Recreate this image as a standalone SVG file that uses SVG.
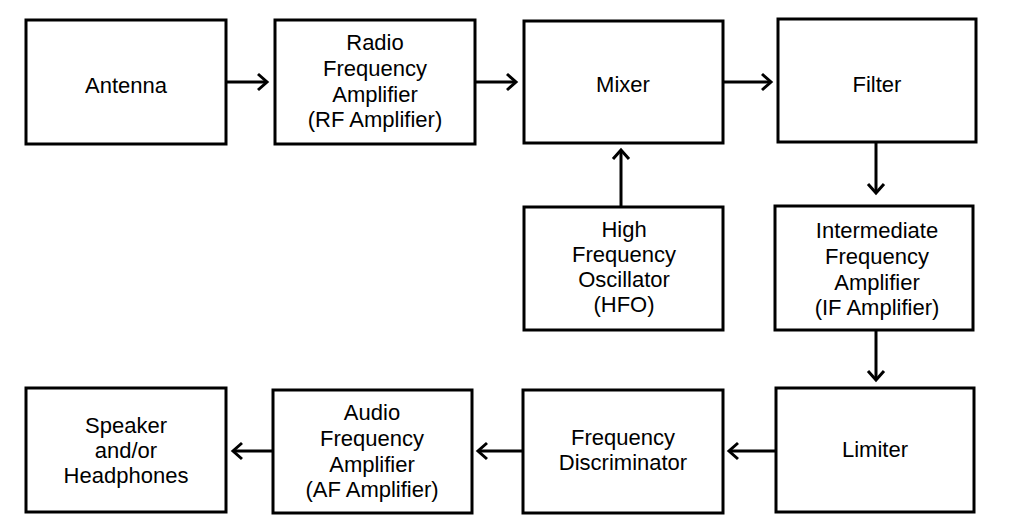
<svg xmlns="http://www.w3.org/2000/svg" width="1021" height="529" viewBox="0 0 1021 529">
<style>
.box{fill:#fff;stroke:#000;stroke-width:3}
.lbl{font-family:"Liberation Sans",Arial,sans-serif;font-size:22px;fill:#000;text-anchor:middle}
.con{fill:none;stroke:#000;stroke-width:3;marker-end:url(#arr)}
</style>
<defs>
<marker id="arr" markerUnits="userSpaceOnUse" markerWidth="20" markerHeight="20" viewBox="-12 -10 14 20" refX="0" refY="0" orient="auto">
<path d="M-9,-8 L0,0 L-9,8" fill="none" stroke="#000" stroke-width="3"/>
</marker>
</defs>
<rect width="1021" height="529" fill="#fff"/>
<g id="connectors">
<line class="con" x1="226" y1="82" x2="267" y2="82"/>
<line class="con" x1="475" y1="82" x2="516" y2="82"/>
<line class="con" x1="723" y1="82" x2="771" y2="82"/>
<line class="con" x1="876" y1="142" x2="876" y2="193"/>
<line class="con" x1="621" y1="207" x2="621" y2="150"/>
<line class="con" x1="876" y1="330" x2="876" y2="380"/>
<line class="con" x1="776" y1="451" x2="729" y2="451"/>
<line class="con" x1="523" y1="451" x2="478" y2="451"/>
<line class="con" x1="273" y1="451" x2="233" y2="451"/>
</g>
<g id="antenna"><rect class="box" x="26" y="20" width="200" height="124"/><text class="lbl" x="126" y="93">Antenna</text></g>
<g id="rf-amplifier"><rect class="box" x="275" y="20" width="200" height="124"/><text class="lbl" x="375"><tspan x="375" y="50">Radio</tspan><tspan x="375" y="76">Frequency</tspan><tspan x="375" y="102">Amplifier</tspan><tspan x="375" y="127">(RF Amplifier)</tspan></text></g>
<g id="mixer"><rect class="box" x="524" y="21" width="199" height="122"/><text class="lbl" x="623" y="92">Mixer</text></g>
<g id="filter"><rect class="box" x="778" y="19" width="198" height="123"/><text class="lbl" x="877" y="92">Filter</text></g>
<g id="hfo"><rect class="box" x="524" y="207" width="199" height="123"/><text class="lbl"><tspan x="624" y="237">High</tspan><tspan x="624" y="262">Frequency</tspan><tspan x="624" y="287">Oscillator</tspan><tspan x="624" y="312">(HFO)</tspan></text></g>
<g id="if-amplifier"><rect class="box" x="775" y="206" width="198" height="124"/><text class="lbl"><tspan x="877" y="238">Intermediate</tspan><tspan x="877" y="264">Frequency</tspan><tspan x="877" y="290">Amplifier</tspan><tspan x="877" y="315">(IF Amplifier)</tspan></text></g>
<g id="limiter"><rect class="box" x="776" y="388" width="198" height="124"/><text class="lbl" x="875" y="457">Limiter</text></g>
<g id="frequency-discriminator"><rect class="box" x="523" y="390" width="200" height="123"/><text class="lbl"><tspan x="623" y="445">Frequency</tspan><tspan x="623" y="470">Discriminator</tspan></text></g>
<g id="af-amplifier"><rect class="box" x="273" y="390" width="199" height="123"/><text class="lbl"><tspan x="372" y="420">Audio</tspan><tspan x="372" y="446">Frequency</tspan><tspan x="372" y="472">Amplifier</tspan><tspan x="372" y="497">(AF Amplifier)</tspan></text></g>
<g id="speaker"><rect class="box" x="26" y="388" width="200" height="124"/><text class="lbl"><tspan x="126" y="433">Speaker</tspan><tspan x="126" y="458">and/or</tspan><tspan x="126" y="483">Headphones</tspan></text></g>
</svg>
